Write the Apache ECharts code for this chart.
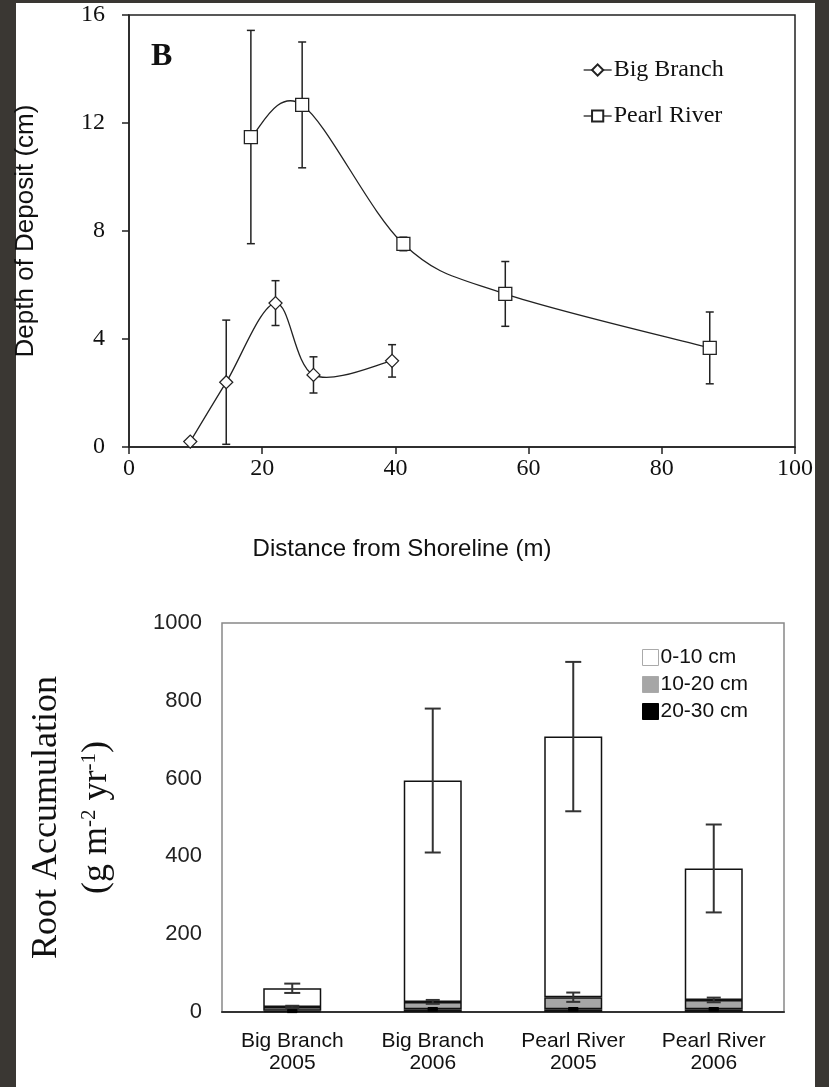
<!DOCTYPE html>
<html lang="en">
<head>
    <meta charset="UTF-8">
    <title>Deposit depth and root accumulation</title>
    <script src="https://cdn.jsdelivr.net/npm/echarts@6/dist/echarts.min.js"></script>
    <style>
        html, body { margin: 0; padding: 0; background: #3a3733; }
    </style>
</head>
<body>
    <div id="main" style="width: 829px;height: 1087px;"></div>
<script>
    // panel B: depth of deposit vs distance from shoreline
    var bbX = [9.2, 14.6, 22.0, 27.7, 39.5];
    var bbY = [0.2, 2.4, 5.33, 2.67, 3.19];
    var bbErr = [0, 2.3, 0.83, 0.67, 0.6];
    var prX = [18.3, 26.0, 41.2, 56.5, 87.2];
    var prY = [11.48, 12.67, 7.52, 5.67, 3.67];
    var prErr = [3.95, 2.33, 0.25, 1.2, 1.33];

    // root accumulation by site/year, stacked by soil depth
    var sites = ['Big Branch\n2005', 'Big Branch\n2006', 'Pearl River\n2005', 'Pearl River\n2006'];
    var depth0_10 = [48, 569, 670, 338];
    var depth10_20 = [10, 19, 31, 24];
    var depth20_30 = [3, 7, 7, 7];
    var err0_10 = [12, 185, 192, 113];
    var err10_20 = [3, 5, 12, 6];
    var err20_30 = [2, 2, 2, 2];

    var serif = 'Liberation Serif';
    var sans = 'Liberation Sans';

    function pairs(xs, ys, es) {
        return xs.map(function (x, i) { return [x, ys[i], es ? es[i] : 0]; });
    }

    // stacked totals for placing the error bars
    function stackErr(layers, errs) {
        return sites.map(function (s, i) {
            var sum = 0;
            layers.forEach(function (l) { sum += l[i]; });
            return [i, sum, errs[i]];
        });
    }

    function errorBar(cap, color, width) {
        return function (params, api) {
            var x = api.value(0), y = api.value(1), e = api.value(2);
            if (!e) return null;
            var hi = api.coord([x, y + e]);
            var lo = api.coord([x, y - e]);
            var st = { stroke: color, lineWidth: width };
            return {
                type: 'group',
                children: [
                    { type: 'line', shape: { x1: hi[0], y1: hi[1], x2: lo[0], y2: lo[1] }, style: st },
                    { type: 'line', shape: { x1: hi[0] - cap, y1: hi[1], x2: hi[0] + cap, y2: hi[1] }, style: st },
                    { type: 'line', shape: { x1: lo[0] - cap, y1: lo[1], x2: lo[0] + cap, y2: lo[1] }, style: st }
                ]
            };
        };
    }

    // spreadsheet-style smoothed line (catmull-rom through the points)
    function smoothCurve(xs, ys) {
        return function (params, api) {
            if (params.dataIndex !== 0) return null;
            var p = xs.map(function (x, i) { return api.coord([x, ys[i]]); });
            var n = p.length, kids = [];
            for (var i = 0; i < n - 1; i++) {
                var a = p[Math.max(i - 1, 0)], b = p[i], c = p[i + 1], d = p[Math.min(i + 2, n - 1)];
                kids.push({
                    type: 'bezierCurve',
                    shape: {
                        x1: b[0], y1: b[1], x2: c[0], y2: c[1],
                        cpx1: b[0] + (c[0] - a[0]) / 6, cpy1: b[1] + (c[1] - a[1]) / 6,
                        cpx2: c[0] - (d[0] - b[0]) / 6, cpy2: c[1] - (d[1] - b[1]) / 6
                    },
                    style: { stroke: '#222', lineWidth: 1.3, fill: null }
                });
            }
            return { type: 'group', children: kids };
        };
    }

    var myChart = echarts.init(document.getElementById('main'));

    myChart.setOption({
        backgroundColor: '#3a3733',
        animation: false,
        graphic: [{
            type: 'rect', z: -100, silent: true,
            shape: { x: 16, y: 3, width: 799, height: 1084 },
            style: { fill: '#ffffff' }
        }],
        title: {
            text: 'B', left: 146, top: 36,
            textStyle: { fontFamily: serif, fontWeight: 'bold', fontSize: 32, color: '#111' }
        },
        legend: [{
            data: [
                { name: 'Big Branch', lineStyle: { color: '#222', width: 1.3, opacity: 1 } },
                { name: 'Pearl River', lineStyle: { color: '#222', width: 1.3, opacity: 1 } }
            ],
            orient: 'vertical', left: 578, top: 53,
            itemWidth: 28, itemHeight: 14, itemGap: 22,
            textStyle: { fontFamily: serif, fontSize: 24, color: '#111', padding: [0, 0, 0, -3] }
        }, {
            data: [
                { name: '0-10 cm', itemStyle: { borderColor: '#aaa', borderWidth: 1 } },
                { name: '10-20 cm', itemStyle: { borderColor: '#aaa', borderWidth: 1 } },
                { name: '20-30 cm', itemStyle: { borderColor: '#000', borderWidth: 1 } }
            ],
            icon: 'rect',
            orient: 'vertical', left: 637, top: 641,
            itemWidth: 16, itemHeight: 16, itemGap: 4,
            textStyle: { fontFamily: sans, fontSize: 21, lineHeight: 23, color: '#111', padding: [0, 0, 0, -3] }
        }],
        grid: [
            { left: 129, right: 34, top: 15, bottom: 640, show: true, backgroundColor: '#fff', borderColor: '#222', borderWidth: 1.5 },
            { left: 222, right: 45, top: 623, bottom: 75, show: true, backgroundColor: '#fff', borderColor: '#888', borderWidth: 1.5 }
        ],
        xAxis: [{
            gridIndex: 0, type: 'value', min: 0, max: 100, interval: 20,
            name: 'Distance from Shoreline (m)', nameLocation: 'middle', nameGap: 90,
            nameTextStyle: { fontFamily: sans, fontSize: 24, color: '#111', padding: [0, 120, 0, 0] },
            axisLine: { lineStyle: { color: '#222', width: 1.5 } },
            axisTick: { length: 7, lineStyle: { color: '#222', width: 1.5 } },
            axisLabel: { margin: 10, fontFamily: serif, fontSize: 24, color: '#111' },
            splitLine: { show: false }
        }, {
            gridIndex: 1, type: 'category', data: sites,
            axisLine: { lineStyle: { color: '#333', width: 2 } },
            axisTick: { length: 6, lineStyle: { color: '#333', width: 1.5 } },
            axisLabel: { margin: 18, fontFamily: sans, fontSize: 21, lineHeight: 22, color: '#111' }
        }],
        yAxis: [{
            gridIndex: 0, type: 'value', min: 0, max: 16, interval: 4,
            name: 'Depth of Deposit (cm)', nameLocation: 'middle', nameGap: 90, nameRotate: 90,
            nameTextStyle: { fontFamily: sans, fontSize: 26, color: '#111' },
            axisLine: { lineStyle: { color: '#222', width: 1.5 } },
            axisTick: { length: 7, lineStyle: { color: '#222', width: 1.5 } },
            axisLabel: { margin: 24, fontFamily: serif, fontSize: 24, color: '#111' },
            splitLine: { show: false }
        }, {
            gridIndex: 1, type: 'value', min: 0, max: 1000, interval: 200,
            name: '{a|Root Accumulation}\n{a|(g m}{s|-2}{a| yr}{s|-1}{a|)}',
            nameLocation: 'middle', nameGap: 100, nameRotate: 90,
            nameTextStyle: {
                fontFamily: serif, fontSize: 36, color: '#111', lineHeight: 50,
                rich: {
                    a: { fontFamily: serif, fontSize: 36, color: '#111', lineHeight: 50 },
                    s: { fontFamily: serif, fontSize: 21, color: '#111', lineHeight: 21, verticalAlign: 'middle', padding: [0, 0, 15, 0] }
                }
            },
            axisLine: { lineStyle: { color: '#888', width: 1.5 } },
            axisTick: { length: 6, lineStyle: { color: '#888', width: 1.5 } },
            axisLabel: {
                margin: 20, fontFamily: sans, fontSize: 22, color: '#222',
                formatter: function (v) { return String(v); }
            },
            splitLine: { show: false }
        }],
        series: [
            {
                type: 'custom', name: 'bbErr', xAxisIndex: 0, yAxisIndex: 0, z: 1,
                renderItem: errorBar(4, '#222', 1.5), data: pairs(bbX, bbY, bbErr)
            },
            {
                type: 'custom', name: 'prErr', xAxisIndex: 0, yAxisIndex: 0, z: 1,
                renderItem: errorBar(4, '#222', 1.5), data: pairs(prX, prY, prErr)
            },
            {
                type: 'custom', name: 'bbCurve', xAxisIndex: 0, yAxisIndex: 0, z: 2,
                renderItem: smoothCurve(bbX, bbY), data: pairs(bbX, bbY)
            },
            {
                type: 'custom', name: 'prCurve', xAxisIndex: 0, yAxisIndex: 0, z: 2,
                renderItem: smoothCurve(prX, prY), data: pairs(prX, prY)
            },
            {
                name: 'Big Branch', type: 'line', xAxisIndex: 0, yAxisIndex: 0, z: 3,
                symbol: 'diamond', symbolSize: 13,
                lineStyle: { color: '#222', width: 1.3, opacity: 0 },
                itemStyle: { color: '#fff', borderColor: '#222', borderWidth: 1.3 },
                data: pairs(bbX, bbY)
            },
            {
                name: 'Pearl River', type: 'line', xAxisIndex: 0, yAxisIndex: 0, z: 3,
                symbol: 'rect', symbolSize: 13,
                lineStyle: { color: '#222', width: 1.3, opacity: 0 },
                itemStyle: { color: '#fff', borderColor: '#222', borderWidth: 1.3 },
                data: pairs(prX, prY)
            },
            {
                name: '20-30 cm', type: 'bar', xAxisIndex: 1, yAxisIndex: 1, stack: 'root', barWidth: 58,
                itemStyle: { color: '#000', borderColor: '#111', borderWidth: 1.5 },
                data: depth20_30
            },
            {
                name: '10-20 cm', type: 'bar', xAxisIndex: 1, yAxisIndex: 1, stack: 'root', barWidth: 58,
                itemStyle: { color: '#a6a6a6', borderColor: '#111', borderWidth: 1.5 },
                data: depth10_20
            },
            {
                name: '0-10 cm', type: 'bar', xAxisIndex: 1, yAxisIndex: 1, stack: 'root', barWidth: 58,
                itemStyle: { color: '#fff', borderColor: '#111', borderWidth: 1.5 },
                data: depth0_10
            },
            {
                type: 'custom', name: 'err20', xAxisIndex: 1, yAxisIndex: 1, z: 5,
                renderItem: errorBar(5, '#000', 3), data: stackErr([depth20_30], err20_30)
            },
            {
                type: 'custom', name: 'err10', xAxisIndex: 1, yAxisIndex: 1, z: 5,
                renderItem: errorBar(7, '#333', 2), data: stackErr([depth20_30, depth10_20], err10_20)
            },
            {
                type: 'custom', name: 'err0', xAxisIndex: 1, yAxisIndex: 1, z: 5,
                renderItem: errorBar(8, '#333', 2), data: stackErr([depth20_30, depth10_20, depth0_10], err0_10)
            }
        ]
    });
</script>
</body>
</html>
